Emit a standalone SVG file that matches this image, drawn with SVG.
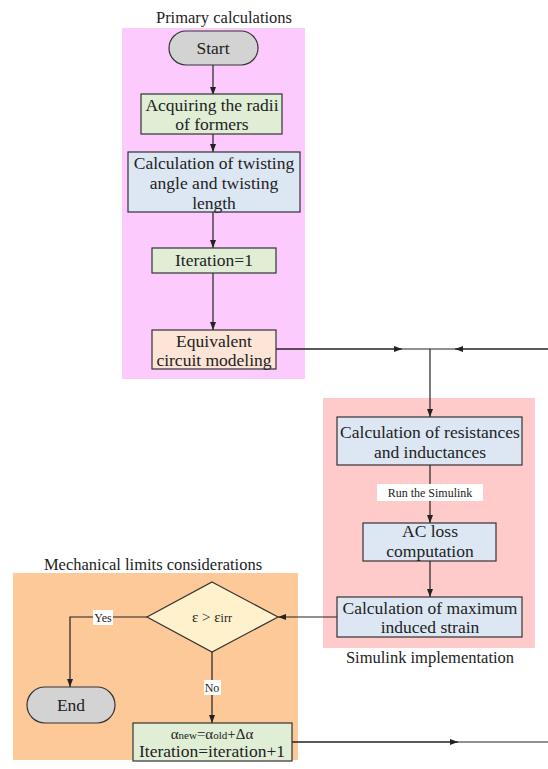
<svg xmlns="http://www.w3.org/2000/svg" width="548" height="769" viewBox="0 0 548 769" font-family="'Liberation Serif', 'DejaVu Serif', serif">
<style>
text{font-family:"Liberation Serif","DejaVu Serif",serif;fill:#222;text-anchor:middle}
.t{font-size:17.5px}
.h{font-size:16.5px}
.s{font-size:12px}
.box{stroke:#333;stroke-width:1.2}
.ln{stroke:#222;stroke-width:1.2;fill:none}
</style>
<defs>
<marker id="ar" markerWidth="8" markerHeight="6" refX="8" refY="3" orient="auto" markerUnits="userSpaceOnUse">
<path d="M0,0 L8,3 L0,6 z" fill="#222"/>
</marker>
</defs>
<g id="regions">
<rect x="122" y="28" width="183" height="351" fill="#fdcafd"/>
<rect x="323" y="398" width="212" height="250" fill="#fecaca"/>
<rect x="13" y="573" width="285" height="187" fill="#fec998"/>
<text class="h" x="224" y="23">Primary calculations</text>
<text class="h" x="430" y="663">Simulink implementation</text>
<text class="h" x="153" y="570">Mechanical limits considerations</text>
</g>
<g id="connectors">
<path class="ln" d="M213,65 V95" marker-end="url(#ar)"/>
<path class="ln" d="M213,134 V152" marker-end="url(#ar)"/>
<path class="ln" d="M213,212 V248" marker-end="url(#ar)"/>
<path class="ln" d="M213,273 V330" marker-end="url(#ar)"/>
<path class="ln" d="M276,349 H548"/>
<path class="ln" d="M276,349 H402" marker-end="url(#ar)"/>
<path class="ln" d="M548,349 H455" marker-end="url(#ar)"/>
<path class="ln" d="M430,349 V417" marker-end="url(#ar)"/>
<path class="ln" d="M430,465 V523" marker-end="url(#ar)"/>
<path class="ln" d="M430,561 V597" marker-end="url(#ar)"/>
<path class="ln" d="M337,617 H278" marker-end="url(#ar)"/>
<path class="ln" d="M147,617 H70 V687" marker-end="url(#ar)"/>
<path class="ln" d="M212,652 V723" marker-end="url(#ar)"/>
<path class="ln" d="M292,742 H548"/>
<path class="ln" d="M292,742 H458" marker-end="url(#ar)"/>
<rect x="377" y="484" width="106" height="17" fill="#fff"/>
<text class="s" x="430" y="497">Run the Simulink</text>
<rect x="93" y="610" width="20" height="15" fill="#fff"/>
<text class="s" x="103" y="622">Yes</text>
<rect x="204" y="680" width="17" height="15" fill="#fff"/>
<text class="s" x="212" y="692">No</text>
</g>
<g id="start">
<rect class="box" x="169" y="31" width="89" height="34" rx="17" fill="#d3d3d3"/>
<text class="t" x="213" y="54">Start</text>
</g>
<g id="acquire">
<rect class="box" x="141" y="94" width="141" height="40" fill="#e0eed6"/>
<text class="t" x="212" y="111">Acquiring the radii</text>
<text class="t" x="212" y="130">of formers</text>
</g>
<g id="twist">
<rect class="box" x="128" y="152" width="172" height="60" fill="#dce7f3"/>
<text class="t" x="214" y="169">Calculation of twisting</text>
<text class="t" x="214" y="189">angle and twisting</text>
<text class="t" x="214" y="209">length</text>
</g>
<g id="iter1">
<rect class="box" x="152" y="248" width="124" height="25" fill="#e0eed6"/>
<text class="t" x="214" y="266">Iteration=1</text>
</g>
<g id="equiv">
<rect class="box" x="152" y="330" width="124" height="39" fill="#fce4d6"/>
<text class="t" x="214" y="347">Equivalent</text>
<text class="t" x="214" y="366">circuit modeling</text>
</g>
<g id="resist">
<rect class="box" x="337" y="417" width="185" height="48" fill="#dce7f3"/>
<text class="t" x="430" y="438">Calculation of resistances</text>
<text class="t" x="430" y="458">and inductances</text>
</g>
<g id="acloss">
<rect class="box" x="363" y="523" width="133" height="38" fill="#dce7f3"/>
<text class="t" x="430" y="537">AC loss</text>
<text class="t" x="430" y="557">computation</text>
</g>
<g id="strain">
<rect class="box" x="337" y="597" width="185" height="40" fill="#dce7f3"/>
<text class="t" x="430" y="614">Calculation of maximum</text>
<text class="t" x="430" y="633">induced strain</text>
</g>
<g id="decision">
<polygon class="box" points="212,582 278,617 212,652 147,617" fill="#fff1cc"/>
<text x="212" y="622" style="font-size:15px">ε &gt; ε<tspan style="font-size:12px">irr</tspan></text>
</g>
<g id="end">
<rect class="box" x="27" y="687" width="88" height="36" rx="18" fill="#d3d3d3"/>
<text class="t" x="71" y="711">End</text>
</g>
<g id="update">
<rect class="box" x="133" y="723" width="159" height="38" fill="#e0eed6"/>
<text x="212" y="739" style="font-size:15px">α<tspan style="font-size:11px">new</tspan>=α<tspan style="font-size:11px">old</tspan>+Δα</text>
<text class="t" x="212" y="757">Iteration=iteration+1</text>
</g>
</svg>
